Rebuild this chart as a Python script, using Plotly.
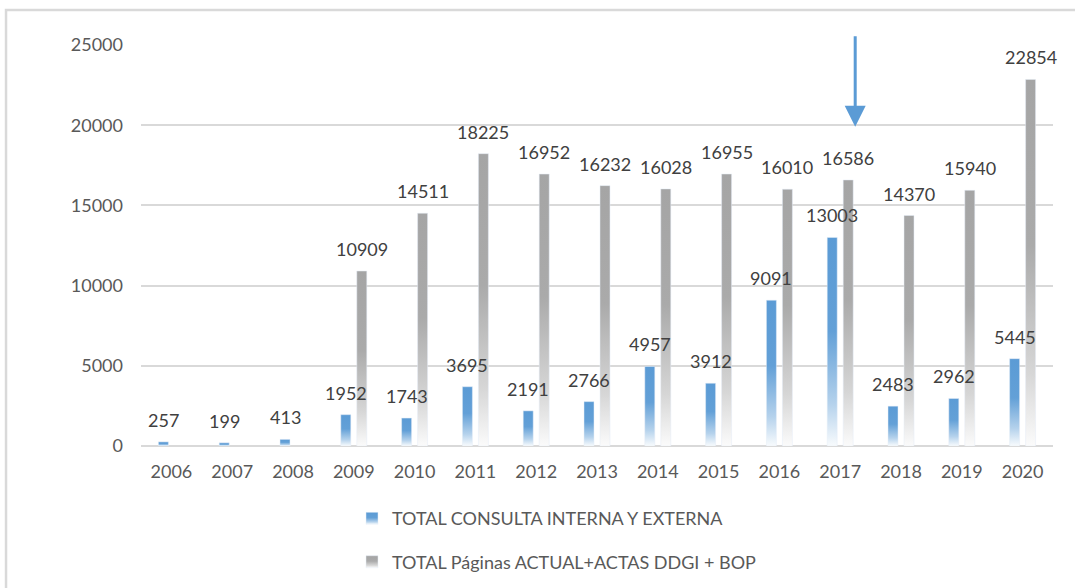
import json
import plotly.graph_objects as go

years = ["2006", "2007", "2008", "2009", "2010", "2011", "2012", "2013",
         "2014", "2015", "2016", "2017", "2018", "2019", "2020"]
consulta = [257, 199, 413, 1952, 1743, 3695, 2191, 2766, 4957, 3912, 9091, 13003, 2483, 2962, 5445]
paginas = [None, None, None, 10909, 14511, 18225, 16952, 16232, 16028, 16955, 16010, 16586, 14370, 15940, 22854]
name_consulta = "TOTAL CONSULTA INTERNA Y EXTERNA"
name_paginas = "TOTAL Páginas ACTUAL+ACTAS DDGI + BOP"
arrow_year = "2017"
arrow_value = 19900
y_ticks = [0, 5000, 10000, 15000, 20000, 25000]

BLUE = "#5B9BD5"
GRAY = "#A5A5A5"
FONT = "Lato, 'Open Sans', sans-serif"

fig = go.Figure()
fig.add_trace(go.Bar(x=years, y=consulta, name=name_consulta, marker_color=BLUE,
                     legendgroup="a", hoverinfo="x+y"))
fig.add_trace(go.Bar(x=years, y=paginas, name=name_paginas, marker_color=GRAY,
                     legendgroup="b", hoverinfo="x+y"))

# on a category axis, annotation x is the category index
annotations = []
for i, v in enumerate(consulta):
    if v is not None:
        annotations.append(dict(x=i, y=v, text=str(v), showarrow=False, xshift=-8, yshift=9,
                                yanchor="bottom", font=dict(family=FONT, size=18, color="#404040")))
for i, v in enumerate(paginas):
    if v is not None:
        annotations.append(dict(x=i, y=v, text=str(v), showarrow=False, xshift=8, yshift=9,
                                yanchor="bottom", font=dict(family=FONT, size=18, color="#404040")))
annotations.append(dict(x=years.index(arrow_year), y=arrow_value, xshift=15, ax=0, ay=-92,
                        showarrow=True, arrowhead=2, arrowsize=1.4, arrowwidth=3,
                        arrowcolor=BLUE, standoff=0, text=""))

# chart frame (light gray border)
shapes = [dict(type="rect", xref="paper", yref="paper", x0=-0.148, x1=1.05, y0=-0.42, y1=1.0873,
               line=dict(color="#D9D9D9", width=2.5), fillcolor="rgba(0,0,0,0)", layer="below")]

fig.update_layout(
    width=1075, height=588,
    margin=dict(l=141, r=22, t=45, b=142, autoexpand=False),
    paper_bgcolor="white", plot_bgcolor="white",
    barmode="group", bargap=0.474, bargroupgap=0.375,
    font=dict(family=FONT, size=18, color="#595959"),
    showlegend=True,
    legend=dict(orientation="v", x=(352 - 141) / 912, xanchor="left", y=-0.135, yanchor="top",
                font=dict(family=FONT, size=18, color="#595959"), tracegroupgap=17,
                bgcolor="rgba(0,0,0,0)"),
    annotations=annotations,
    shapes=shapes,
)
fig.update_xaxes(type="category", range=[-0.5, len(years) - 0.5], showgrid=False, showline=False,
                 ticks="", ticklabelstandoff=13, tickfont=dict(family=FONT, size=18, color="#595959"))
fig.update_yaxes(range=[0, 25000], tickvals=y_ticks, tickformat="d", showgrid=True,
                 gridcolor="#D9D9D9", gridwidth=1.5, zeroline=True, zerolinecolor="#D9D9D9",
                 zerolinewidth=1.5, showline=False, ticks="", ticklabelstandoff=17,
                 tickfont=dict(family=FONT, size=18, color="#595959"))


def mix(hexc, t):
    hexc = hexc.lstrip("#")
    r, g, b = (int(hexc[i:i + 2], 16) for i in (0, 2, 4))
    r2 = round(255 + (r - 255) * t)
    g2 = round(255 + (g - 255) * t)
    b2 = round(255 + (b - 255) * t)
    return "#%02x%02x%02x" % (r2, g2, b2)


grads = []
for gid, col in (("gradBlue", BLUE), ("gradGray", GRAY)):
    grads.append([gid, [[0, col], [0.45, mix(col, 0.95)], [0.8, mix(col, 0.45)], [1, mix(col, 0.04)]]])

post = """
(function(){
document.body.style.margin = '0';
document.body.style.overflow = 'hidden';
var gd = document.getElementById('{plot_id}');
var grads = %s;
function apply(){
  var svg = gd.querySelector('svg.main-svg');
  if(!svg) return;
  var ns = 'http://www.w3.org/2000/svg';
  var defs = svg.querySelector('defs');
  if(!defs){ defs = document.createElementNS(ns,'defs'); svg.insertBefore(defs, svg.firstChild); }
  grads.forEach(function(g){
    if(svg.querySelector('#'+g[0])) return;
    var lg = document.createElementNS(ns,'linearGradient');
    lg.setAttribute('id', g[0]);
    lg.setAttribute('x1','0'); lg.setAttribute('y1','0');
    lg.setAttribute('x2','0'); lg.setAttribute('y2','1');
    g[1].forEach(function(s){
      var st = document.createElementNS(ns,'stop');
      st.setAttribute('offset', s[0]);
      st.setAttribute('stop-color', s[1]);
      lg.appendChild(st);
    });
    defs.appendChild(lg);
  });
  var traces = gd.querySelectorAll('.barlayer .trace');
  traces.forEach(function(t,i){
    if(!grads[i]) return;
    t.querySelectorAll('path').forEach(function(p){ p.style.fill = 'url(#'+grads[i][0]+')'; });
  });
  var leg = gd.querySelectorAll('.legend .traces');
  leg.forEach(function(t,i){
    if(!grads[i]) return;
    t.querySelectorAll('.legendpoints path').forEach(function(p){ p.style.fill = 'url(#'+grads[i][0]+')'; });
  });
}
apply();
gd.on('plotly_afterplot', apply);
})();
""" % json.dumps(grads)

fig.write_html("out.html", post_script=post, config={"displayModeBar": False})
